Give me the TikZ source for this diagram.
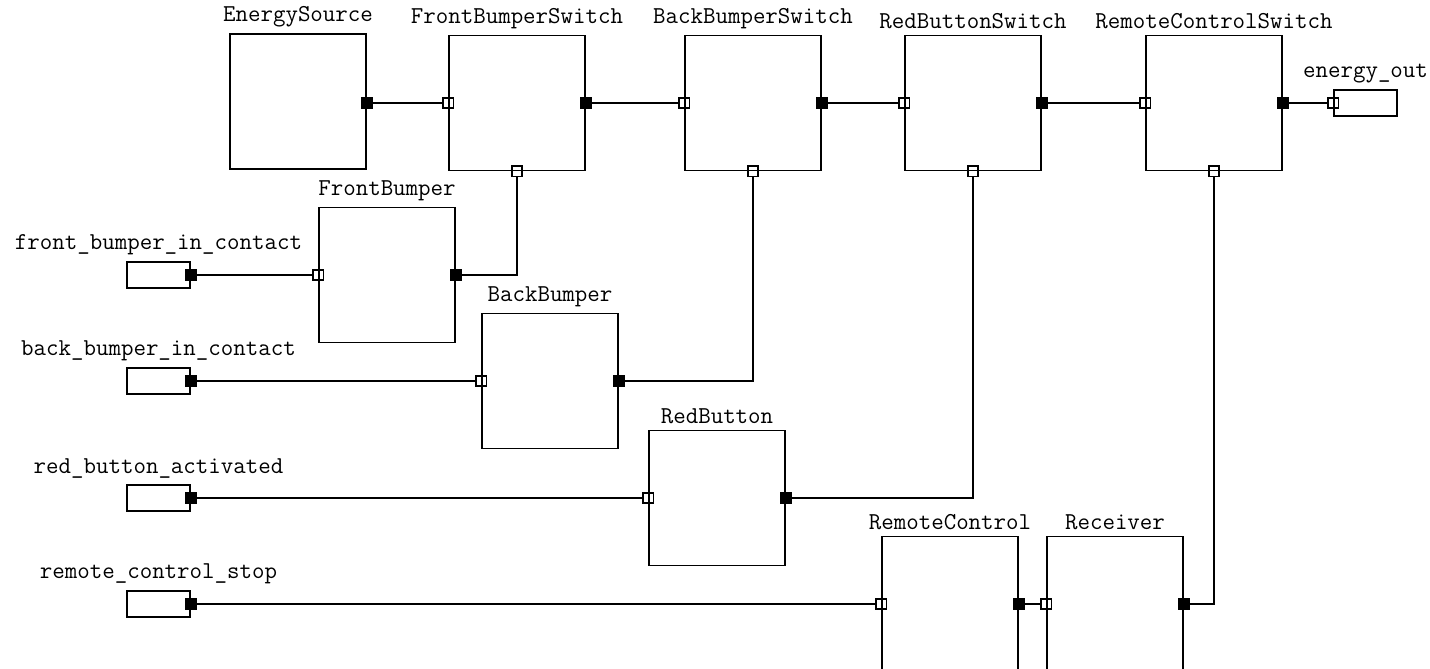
\documentclass[tikz,border=0pt]{standalone}
\usepackage{tikz}

\begin{document}
\begin{tikzpicture}[
  x=0.02cm, y=-0.02cm,
  block/.style={
    draw, line width=0.9pt, minimum width=2.72cm, minimum height=2.7cm,
    inner sep=0pt
  },
  signal/.style={
    draw, line width=0.9pt, minimum width=1.26cm, minimum height=0.52cm,
    inner sep=0pt
  },
  outport/.style={draw, fill=black, minimum size=0.22cm, inner sep=0pt},
  inport/.style={draw, line width=0.9pt, minimum size=0.21cm, inner sep=0pt},
  wire/.style={line width=0.9pt},
  every label/.style={font=\ttfamily\fontsize{13.8}{16}\selectfont}
]
\clip (0,0) rectangle (1430,669);

% switch chain
\node[block, label=above:EnergySource] (es) at (298,101.5) {};
\node[block, label=above:FrontBumperSwitch] (fbs) at (517,103) {};
\node[block, label=above:BackBumperSwitch] (bbs) at (753,103) {};
\node[block, label=above:RedButtonSwitch] (rbs) at (973,103) {};
\node[block, label=above:RemoteControlSwitch] (rcs) at (1214,103) {};
\node[signal, label=above:energy\_out] (eo) at (1365.5,103) {};

% sensors
\node[block, label=above:FrontBumper] (fb) at (387,275) {};
\node[block, label=above:BackBumper] (bb) at (550,381) {};
\node[block, label=above:RedButton] (rb) at (717,498) {};
\node[block, label=above:RemoteControl] (rc) at (950,604) {};
\node[block, label=above:Receiver] (rx) at (1115,604) {};

% inputs
\node[signal, label=above:front\_bumper\_in\_contact] (in1) at (158.5,275) {};
\node[signal, label=above:back\_bumper\_in\_contact] (in2) at (158.5,381) {};
\node[signal, label=above:red\_button\_activated] (in3) at (158.5,498) {};
\node[signal, label=above:remote\_control\_stop] (in4) at (158.5,604) {};

% ports
\foreach \b in {fbs,bbs,rbs,rcs} {
  \node[inport] (\b-in) at (\b.west) {};
  \node[outport] (\b-out) at (\b.east) {};
  \node[inport] (\b-dn) at (\b.south) {};
}
\node[outport] (es-out) at (es.east |- fbs-in) {};
\foreach \b in {fb,bb,rb,rc,rx} {
  \node[inport] (\b-in) at (\b.west) {};
  \node[outport] (\b-out) at (\b.east) {};
}
\foreach \i in {1,2,3,4}
  \node[outport] (in\i-out) at (in\i.east) {};
\node[inport] (eo-in) at (eo.west) {};

% wires
\draw[wire] (es-out) -- (fbs-in);
\draw[wire] (fbs-out) -- (bbs-in);
\draw[wire] (bbs-out) -- (rbs-in);
\draw[wire] (rbs-out) -- (rcs-in);
\draw[wire] (rcs-out) -- (eo-in);
\draw[wire] (fb-out) -| (fbs-dn);
\draw[wire] (bb-out) -| (bbs-dn);
\draw[wire] (rb-out) -| (rbs-dn);
\draw[wire] (rx-out) -| (rcs-dn);
\draw[wire] (in1-out) -- (fb-in);
\draw[wire] (in2-out) -- (bb-in);
\draw[wire] (in3-out) -- (rb-in);
\draw[wire] (in4-out) -- (rc-in);
\draw[wire] (rc-out) -- (rx-in);
\end{tikzpicture}
\end{document}
